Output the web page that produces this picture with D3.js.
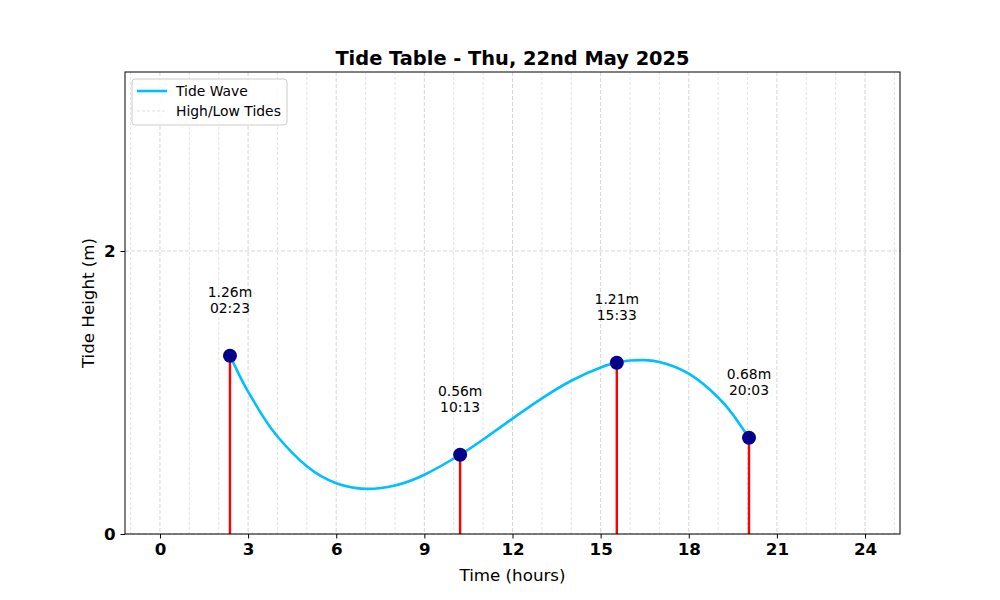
<!DOCTYPE html>
<html>
<head>
<meta charset="utf-8">
<script src="https://cdn.jsdelivr.net/npm/d3@7"></script>
<style>
  body { margin: 0; background: #fff; }
  text { font-family: "DejaVu Sans", sans-serif; }
</style>
</head>
<body>
<div id="chart"></div>
<script>
// --- Data ---
const tideTimes = [2.383, 10.217, 15.55, 20.05];
const tideHeights = [1.26, 0.56, 1.21, 0.68];
const tideClock = ["02:23", "10:13", "15:33", "20:03"];

// sampled points along the tide wave
const waveHours = [2.383, 2.7, 3, 3.5, 4, 5, 6, 7, 8, 9, 10.217, 11, 12, 13, 14, 15, 15.55, 16, 16.5, 17, 18, 19, 19.5, 20.05];
const waveHeights = [1.26, 1.123, 1.006, 0.833, 0.689, 0.478, 0.359, 0.319, 0.343, 0.419, 0.56, 0.668, 0.815, 0.958, 1.083, 1.177, 1.21, 1.226, 1.229, 1.216, 1.133, 0.965, 0.844, 0.68];

const xTicks = [0, 3, 6, 9, 12, 15, 18, 21, 24];
const xMinor = d3.range(-1, 26);
const yTicks = [0, 2];

// --- Layout ---
const width = 1000, height = 600;
const margin = { top: 72, right: 100, bottom: 66, left: 125 };
const iw = width - margin.left - margin.right;
const ih = height - margin.top - margin.bottom;

const svg = d3.select("#chart").append("svg")
    .attr("width", width)
    .attr("height", height);

const x = d3.scaleLinear().domain([-1.19, 25.19]).range([0, iw]);
const y = d3.scaleLinear().domain([0, 3.265]).range([ih, 0]);

const g = svg.append("g").attr("transform", `translate(${margin.left},${margin.top})`);

// --- Grid ---
g.append("g").selectAll("line")
    .data(xMinor.filter(d => xTicks.indexOf(d) < 0))
    .join("line")
    .attr("x1", d => x(d)).attr("x2", d => x(d))
    .attr("y1", 0).attr("y2", ih)
    .attr("stroke", "#dcdcdc")
    .attr("stroke-width", 0.8)
    .attr("stroke-dasharray", "3,2");

g.append("g").selectAll("line")
    .data(xTicks)
    .join("line")
    .attr("x1", d => x(d)).attr("x2", d => x(d))
    .attr("y1", 0).attr("y2", ih)
    .attr("stroke", "#cccccc")
    .attr("stroke-width", 0.8)
    .attr("stroke-dasharray", "4,2");

g.append("g").selectAll("line")
    .data(yTicks)
    .join("line")
    .attr("x1", 0).attr("x2", iw)
    .attr("y1", d => y(d)).attr("y2", d => y(d))
    .attr("stroke", "#cccccc")
    .attr("stroke-width", 0.8)
    .attr("stroke-dasharray", "4,2");

// --- Stems ---
g.append("g").selectAll("line")
    .data(tideTimes)
    .join("line")
    .attr("x1", d => x(d)).attr("x2", d => x(d))
    .attr("y1", y(0))
    .attr("y2", (d, i) => y(tideHeights[i]))
    .attr("stroke", "red")
    .attr("stroke-width", 2.4);

// --- Tide wave ---
const line = d3.line()
    .x((d, i) => x(waveHours[i]))
    .y(d => y(d))
    .curve(d3.curveNatural);

g.append("path")
    .datum(waveHeights)
    .attr("d", line)
    .attr("fill", "none")
    .attr("stroke", "#00BFFF")
    .attr("stroke-width", 2.6);

// --- Points ---
g.append("g").selectAll("circle")
    .data(tideTimes)
    .join("circle")
    .attr("cx", d => x(d))
    .attr("cy", (d, i) => y(tideHeights[i]))
    .attr("r", 7)
    .attr("fill", "#00008B");

// --- Labels ---
const labels = g.append("g").selectAll("text")
    .data(tideTimes)
    .join("text")
    .attr("text-anchor", "middle")
    .attr("font-size", 13.9)
    .attr("fill", "#000");

labels.append("tspan")
    .attr("x", d => x(d))
    .attr("y", (d, i) => y(tideHeights[i] + 0.45) + 5)
    .text((d, i) => tideHeights[i].toFixed(2) + "m");

labels.append("tspan")
    .attr("x", d => x(d))
    .attr("y", (d, i) => y(tideHeights[i] + 0.45) + 21)
    .text((d, i) => tideClock[i]);

// --- Axes ---
const xAxis = g.append("g")
    .attr("transform", `translate(0,${ih})`)
    .call(d3.axisBottom(x).tickValues(xTicks).tickSize(4.5).tickPadding(5));

const yAxis = g.append("g")
    .call(d3.axisLeft(y).tickValues(yTicks).tickFormat(d3.format("d")).tickSize(4.5).tickPadding(5));

[xAxis, yAxis].forEach(a => {
    a.select(".domain").remove();
    a.selectAll("text")
        .attr("font-family", "DejaVu Sans, sans-serif")
        .attr("font-size", 16.7)
        .attr("font-weight", "bold")
        .attr("fill", "#000");
    a.selectAll("line").attr("stroke", "#000").attr("stroke-width", 1);
});

// frame
g.append("rect")
    .attr("width", iw).attr("height", ih)
    .attr("fill", "none")
    .attr("stroke", "#000")
    .attr("stroke-width", 1);

// --- Titles ---
svg.append("text")
    .attr("x", margin.left + iw / 2)
    .attr("y", 65)
    .attr("text-anchor", "middle")
    .attr("font-size", 19.4)
    .attr("font-weight", "bold")
    .text("Tide Table - Thu, 22nd May 2025");

svg.append("text")
    .attr("x", margin.left + iw / 2)
    .attr("y", 581)
    .attr("text-anchor", "middle")
    .attr("font-size", 16.7)
    .text("Time (hours)");

svg.append("text")
    .attr("transform", `translate(94,${margin.top + ih / 2}) rotate(-90)`)
    .attr("text-anchor", "middle")
    .attr("font-size", 16.7)
    .text("Tide Height (m)");

// --- Legend ---
const legend = g.append("g").attr("transform", "translate(7,7)");
legend.append("rect")
    .attr("width", 155).attr("height", 46)
    .attr("rx", 3)
    .attr("fill", "#fff")
    .attr("fill-opacity", 0.8)
    .attr("stroke", "#ccc")
    .attr("stroke-width", 1);

legend.append("line")
    .attr("x1", 5).attr("x2", 35).attr("y1", 12).attr("y2", 12)
    .attr("stroke", "#00BFFF").attr("stroke-width", 2.6);
legend.append("line")
    .attr("x1", 5).attr("x2", 35).attr("y1", 32).attr("y2", 32)
    .attr("stroke", "#d8d8d8").attr("stroke-width", 0.8)
    .attr("stroke-dasharray", "3,2");

legend.append("text").attr("x", 44).attr("y", 17)
    .attr("font-size", 13.9).text("Tide Wave");
legend.append("text").attr("x", 44).attr("y", 37)
    .attr("font-size", 13.9).text("High/Low Tides");
</script>
</body>
</html>
